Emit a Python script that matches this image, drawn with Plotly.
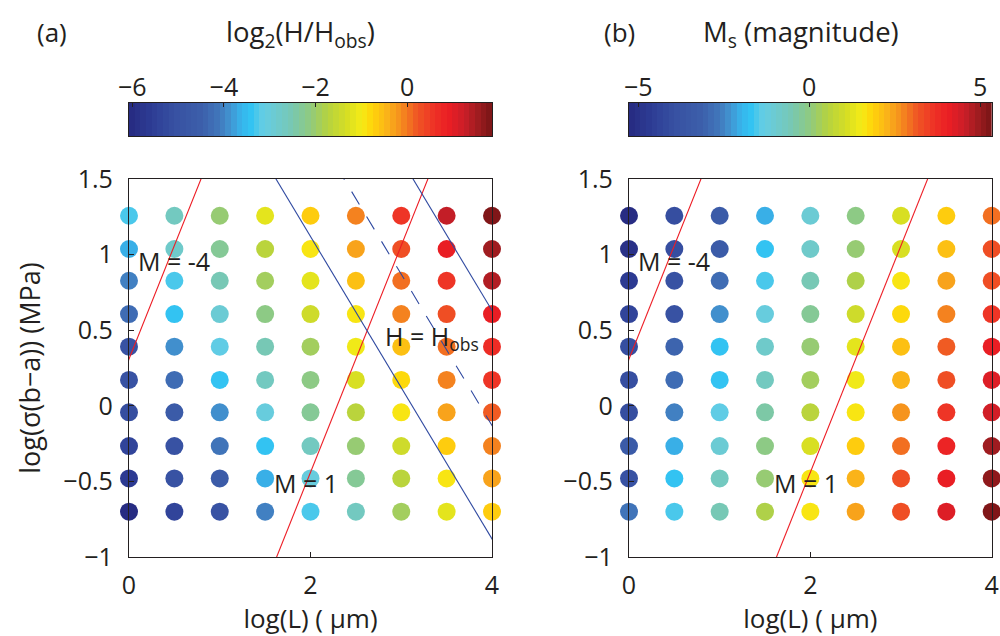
import numpy as np
import plotly.graph_objects as go

# ---------------------------------------------------------------- data
log_L = [0, 0.5, 1, 1.5, 2, 2.5, 3, 3.5, 4]
log_stress = [1.257, 1.037, 0.827, 0.607, 0.391, 0.171, -0.043, -0.266, -0.48, -0.70]

# log2(H/H_obs), one row per log_stress value (columns follow log_L)
log2_H_ratio = [
    [-3.30, -2.66, -2.03, -1.24, -0.68, -0.05, 0.58, 1.26, 1.77],
    [-3.69, -2.74, -2.27, -1.71, -0.96, -0.29, 0.27, 0.90, 1.53],
    [-3.97, -3.30, -2.51, -1.87, -1.24, -0.53, 0.07, 0.58, 1.37],
    [-4.25, -3.46, -2.90, -2.19, -1.40, -0.96, -0.13, 0.27, 0.90],
    [-4.96, -3.85, -3.14, -2.51, -1.87, -1.08, -0.53, 0.07, 0.66],
    [-4.96, -4.25, -3.46, -2.66, -2.19, -1.32, -0.84, -0.13, 0.50],
    [-5.12, -4.64, -3.85, -3.06, -2.27, -1.71, -0.96, -0.37, 0.19],
    [-5.36, -4.96, -4.17, -3.46, -2.66, -2.03, -1.40, -0.68, -0.05],
    [-5.67, -4.96, -4.64, -3.69, -3.06, -2.27, -1.71, -0.96, -0.29],
    [-5.99, -5.36, -4.96, -3.97, -3.30, -2.66, -1.87, -1.24, -0.68],
]

# M_s magnitude, same grid
Ms = [
    [-5.16, -4.00, -3.36, -2.09, -1.03, -0.07, 1.04, 1.89, 2.90],
    [-4.95, -4.00, -3.36, -1.77, -0.81, 0.14, 1.04, 2.10, 3.22],
    [-4.74, -3.78, -2.83, -1.56, -0.50, 0.46, 1.57, 2.48, 3.22],
    [-4.42, -3.78, -2.30, -1.24, -0.18, 0.94, 1.73, 2.79, 3.64],
    [-4.00, -3.04, -1.77, -0.81, 0.14, 1.20, 2.16, 3.11, 4.07],
    [-4.00, -2.83, -1.77, -0.71, 0.35, 1.41, 2.32, 3.22, 4.28],
    [-4.00, -2.46, -1.45, -0.39, 0.57, 1.57, 2.58, 3.54, 4.49],
    [-3.36, -2.09, -1.03, -0.07, 1.04, 1.94, 3.01, 3.96, 4.86],
    [-3.78, -1.77, -0.71, 0.14, 1.57, 2.26, 3.22, 4.07, 5.07],
    [-2.62, -1.56, -0.50, 0.41, 1.57, 2.48, 3.22, 4.33, 5.23],
]

H_range = (-6.07, 1.85)
M_range = (-5.27, 5.34)
H_ticks = [-6, -4, -2, 0]
M_ticks = [-5, 0, 5]
L_ticks = [0, 2, 4]
stress_ticks = [-1, -0.5, 0, 0.5, 1, 1.5]

# iso-magnitude lines: log_stress = slope * log_L + intercept
iso_M_values = [-4, 1]
iso_M_slope = 1.5
iso_M_intercepts = [0.31, -3.44]
# H = H_obs contour (dashed) and its bounds (solid)
H_slope = -1.0
H_solid_intercepts = [3.12, 4.63]
H_dashed_intercepts = [3.87]

# ---------------------------------------------------------------- style
FONT = "Open Sans, Noto Sans, DejaVu Sans, sans-serif"
INK = "#231f20"
RED = "rgb(237,28,36)"
BLUE = "rgb(46,72,160)"

# jet as it appears in print (muted), sampled into 64 steps
jet_nodes = [
    (0.00, (38, 42, 128)), (0.06, (45, 60, 148)), (0.125, (55, 80, 162)),
    (0.20, (60, 95, 170)), (0.25, (65, 120, 188)), (0.28, (65, 150, 210)),
    (0.31, (55, 180, 235)), (0.335, (50, 195, 242)), (0.37, (100, 205, 228)),
    (0.41, (110, 202, 205)), (0.45, (120, 200, 178)), (0.50, (145, 202, 125)),
    (0.545, (180, 210, 65)), (0.60, (215, 222, 35)), (0.64, (245, 235, 22)),
    (0.67, (255, 212, 10)), (0.71, (250, 180, 25)), (0.75, (245, 140, 30)),
    (0.79, (240, 90, 35)), (0.84, (238, 50, 38)), (0.88, (235, 30, 36)),
    (0.925, (200, 30, 40)), (0.96, (160, 28, 32)), (1.00, (120, 20, 22)),
]
N_STEPS = 64
node_t = np.array([n[0] for n in jet_nodes])
node_rgb = np.array([n[1] for n in jet_nodes], dtype=float)
colorscale = []
for i in range(N_STEPS):
    tc = (i + 0.5) / N_STEPS
    rgb = [int(round(np.interp(tc, node_t, node_rgb[:, k]))) for k in range(3)]
    c = f"rgb({rgb[0]},{rgb[1]},{rgb[2]})"
    colorscale.append([i / N_STEPS, c])
    colorscale.append([(i + 1) / N_STEPS, c])

W, H = 1000, 636


def px_x(p):
    return p / W


def px_y(p):
    return 1 - p / H


fig = go.Figure()

panels = [
    dict(ax="", vals=log2_H_ratio, rng=H_range, ticks=H_ticks,
         x0=129, x1=492, label="(a)", label_x=52,
         title="log<sub>2</sub>(H/H<sub>obs</sub>)", title_x=300, H_lines=True,
         ytitle="log(\u03c3(b\u2212a)) (MPa)"),
    dict(ax="2", vals=Ms, rng=M_range, ticks=M_ticks,
         x0=629, x1=991.7, label="(b)", label_x=619,
         title="M<sub>s</sub> (magnitude)", title_x=801, H_lines=False,
         ytitle=""),
]

grid_x, grid_y = np.meshgrid(log_L, log_stress)
line_x = np.array([-1.0, 5.0])

annotations = []
layout_axes = {}

for k, p in enumerate(panels):
    xa = "x" + p["ax"]
    ya = "y" + p["ax"]
    cxa = "x" + str(3 + k)
    cya = "y" + str(3 + k)

    # dots
    fig.add_trace(go.Scatter(
        x=grid_x.ravel(), y=grid_y.ravel(), mode="markers",
        marker=dict(size=18, color=np.ravel(p["vals"]), colorscale=colorscale,
                    cmin=p["rng"][0], cmax=p["rng"][1], line=dict(width=0)),
        cliponaxis=False, xaxis=xa, yaxis=ya, showlegend=False, hoverinfo="skip"))

    # iso-magnitude lines
    for c in iso_M_intercepts:
        fig.add_trace(go.Scatter(
            x=line_x, y=iso_M_slope * line_x + c, mode="lines",
            line=dict(color=RED, width=1.1), xaxis=xa, yaxis=ya,
            showlegend=False, hoverinfo="skip"))

    if p["H_lines"]:
        for c in H_solid_intercepts:
            fig.add_trace(go.Scatter(
                x=line_x, y=H_slope * line_x + c, mode="lines",
                line=dict(color=BLUE, width=1.1), xaxis=xa, yaxis=ya,
                showlegend=False, hoverinfo="skip"))
        for c in H_dashed_intercepts:
            fig.add_trace(go.Scatter(
                x=line_x, y=H_slope * line_x + c, mode="lines",
                line=dict(color=BLUE, width=1.1, dash="15px,14px"), xaxis=xa, yaxis=ya,
                showlegend=False, hoverinfo="skip"))

    # colour bar drawn as a one-row heatmap
    edges = np.linspace(p["rng"][0], p["rng"][1], N_STEPS + 1)
    centers = 0.5 * (edges[:-1] + edges[1:])
    fig.add_trace(go.Heatmap(
        x=centers, y=[0], z=[centers], colorscale=colorscale,
        zmin=p["rng"][0], zmax=p["rng"][1], showscale=False,
        xaxis=cxa, yaxis=cya, hoverinfo="skip"))

    dom_x = [px_x(p["x0"]), px_x(p["x1"])]
    axis_common = dict(showline=True, linecolor=INK, linewidth=1.4, mirror=True,
                       ticks="inside", ticklen=5, tickwidth=1.2, tickcolor=INK,
                       showgrid=False, zeroline=False, automargin=False,
                       tickfont=dict(family=FONT, size=25, color=INK))

    layout_axes["xaxis" + p["ax"]] = dict(
        axis_common, domain=dom_x, range=[0, 4], tickvals=L_ticks,
        anchor=ya, ticklabelstandoff=6,
        title=dict(text="log(L) ( \u03bcm)", font=dict(family=FONT, size=26, color=INK),
                   standoff=12))
    layout_axes["yaxis" + p["ax"]] = dict(
        axis_common, domain=[px_y(557), px_y(179)], range=[-1, 1.5],
        tickvals=stress_ticks, anchor=xa, ticklabelstandoff=10,
        title=dict(text=p["ytitle"],
                   font=dict(family=FONT, size=27, color=INK), standoff=14))

    layout_axes["xaxis" + str(3 + k)] = dict(
        axis_common, domain=dom_x, range=list(p["rng"]), tickvals=p["ticks"],
        side="top", anchor=cya, ticklen=4, ticklabelstandoff=-4)
    layout_axes["yaxis" + str(3 + k)] = dict(
        domain=[px_y(136), px_y(103)], range=[-0.5, 0.5], anchor=cxa,
        showticklabels=False, ticks="", showgrid=False, zeroline=False,
        showline=True, linecolor=INK, linewidth=1.4, mirror=True, automargin=False)

    # panel label and colour-bar title
    annotations.append(dict(text=p["label"], x=px_x(p["label_x"]), y=px_y(32),
                            xref="paper", yref="paper", showarrow=False,
                            xanchor="center", yanchor="middle",
                            font=dict(family=FONT, size=26, color=INK)))
    annotations.append(dict(text=p["title"], x=px_x(p["title_x"]), y=px_y(34),
                            xref="paper", yref="paper", showarrow=False,
                            xanchor="center", yanchor="middle",
                            font=dict(family=FONT, size=27.5, color=INK)))

    # line labels
    annotations.append(dict(text="M = %d" % iso_M_values[0], x=0.08, y=0.96,
                            xref=xa, yref=ya, showarrow=False,
                            xanchor="left", yanchor="middle",
                            font=dict(family=FONT, size=25, color=INK)))
    annotations.append(dict(text="M = %d" % iso_M_values[1], x=1.58, y=-0.51,
                            xref=xa, yref=ya, showarrow=False,
                            xanchor="left", yanchor="middle",
                            font=dict(family=FONT, size=25, color=INK)))
    if p["H_lines"]:
        annotations.append(dict(text="H = H<sub>obs</sub>", x=2.8, y=0.45,
                                xref=xa, yref=ya, showarrow=False,
                                xanchor="left", yanchor="middle",
                                font=dict(family=FONT, size=25, color=INK)))

fig.update_layout(
    width=W, height=H, margin=dict(l=0, r=0, t=0, b=0),
    paper_bgcolor="white", plot_bgcolor="white",
    annotations=annotations, showlegend=False,
    **layout_axes)

fig.write_html("out.html")
